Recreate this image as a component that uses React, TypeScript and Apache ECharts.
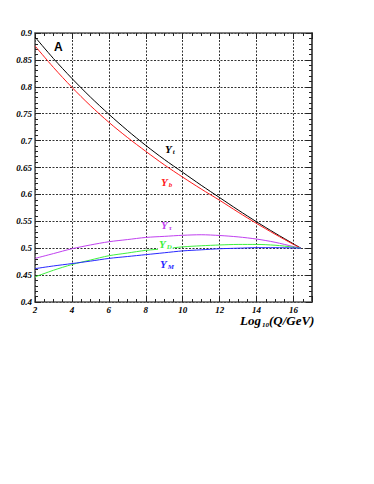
import React, { useEffect, useRef } from "react";
import * as echarts from "echarts";

const xs = [2, 3, 4, 5, 6, 7, 8, 9, 10, 11, 12, 13, 14, 15, 16, 16.4];
const yT = [0.8925, 0.8525, 0.8155, 0.781, 0.749, 0.719, 0.691, 0.665, 0.641, 0.617, 0.594, 0.571, 0.549, 0.528, 0.508, 0.5];
const yB = [0.876, 0.836, 0.799, 0.765, 0.734, 0.706, 0.68, 0.655, 0.632, 0.61, 0.589, 0.567, 0.546, 0.526, 0.507, 0.5];
const yTau = [0.481, 0.49, 0.499, 0.506, 0.512, 0.516, 0.52, 0.522, 0.524, 0.525, 0.5236, 0.521, 0.517, 0.511, 0.503, 0.5];
const yD = [0.4466, 0.459, 0.4696, 0.478, 0.486, 0.491, 0.496, 0.499, 0.5025, 0.5045, 0.506, 0.507, 0.507, 0.5055, 0.502, 0.5];
const yM = [0.462, 0.467, 0.4714, 0.476, 0.481, 0.4845, 0.488, 0.4915, 0.495, 0.497, 0.499, 0.5, 0.501, 0.501, 0.5005, 0.5];

const serif = "Liberation Serif";

function mk(name: string, ys: number[], color: string) {
  return {
    name,
    type: "line",
    data: xs.map((x, i) => [x, ys[i]]),
    smooth: 0.3,
    showSymbol: false,
    lineStyle: { color, width: 1 },
    z: 3,
  };
}

function label(x: number, y: number, sub: string, color: string, bg?: string) {
  return {
    type: "text",
    x,
    y,
    z: 10,
    style: {
      text: "{a|Y}{b|" + sub + "}",
      fill: color,
      backgroundColor: bg,
      padding: bg ? [0, 1] : 0,
      rich: {
        a: { fontFamily: serif, fontStyle: "italic", fontWeight: "bold", fontSize: 11, fill: color },
        b: { fontFamily: serif, fontStyle: "italic", fontWeight: "bold", fontSize: 7, fill: color, verticalAlign: "bottom", padding: [5, 0, 0, 1] },
      },
    },
  };
}

export default function App() {
  const ref = useRef<HTMLDivElement>(null);
  useEffect(() => {
    const chart = echarts.init(ref.current!, null, { renderer: "svg" });
    const axisLabel = { fontFamily: serif, fontStyle: "italic", fontWeight: "bold", fontSize: 9, color: "#000" };
    const splitLine = { show: true, lineStyle: { color: "#333", type: [2, 1.5], width: 1 } };
    const axisLine = { show: true, lineStyle: { color: "#555", width: 1.5 } };
    chart.setOption({
      animation: false,
      grid: { left: 35, top: 33, right: 62, bottom: 182 },
      xAxis: [
        {
          type: "value", min: 2, max: 17, interval: 2, position: "bottom",
          axisLine, axisTick: { inside: true, length: 6, lineStyle: { color: "#222" } },
          minorTick: { show: true, splitNumber: 4, length: 3, lineStyle: { color: "#222" } },
          axisLabel: { ...axisLabel, margin: 3, formatter: (v: number) => (v > 16 ? "" : String(v)) },
          splitLine,
        },
        {
          type: "value", min: 2, max: 17, interval: 2, position: "top",
          axisLine, axisTick: { inside: true, length: 6, lineStyle: { color: "#222" } },
          minorTick: { show: true, splitNumber: 4, length: 3, lineStyle: { color: "#222" } },
          axisLabel: { show: false }, splitLine: { show: false },
        },
      ],
      yAxis: [
        {
          type: "value", min: 0.4, max: 0.9, interval: 0.05, position: "left",
          axisLine, axisTick: { inside: true, length: 6, lineStyle: { color: "#222" } },
          minorTick: { show: true, splitNumber: 5, length: 3, lineStyle: { color: "#222" } },
          axisLabel: { ...axisLabel, margin: 3, formatter: (v: number) => String(Math.round(v * 100) / 100) },
          splitLine,
        },
        {
          type: "value", min: 0.4, max: 0.9, interval: 0.05, position: "right",
          axisLine: { show: true, lineStyle: { color: "#555", width: 2 } },
          axisTick: { inside: true, length: 6, lineStyle: { color: "#222" } },
          minorTick: { show: true, splitNumber: 5, length: 3, lineStyle: { color: "#222" } },
          axisLabel: { show: false }, splitLine: { show: false },
        },
      ],
      series: [
        mk("Yt", yT, "#000000"),
        mk("Yb", yB, "#ff1a1a"),
        mk("Ytau", yTau, "#c040f0"),
        mk("YD", yD, "#3ef03e"),
        mk("YM", yM, "#2828ff"),
      ],
      graphic: [
        { type: "text", x: 54, y: 41, z: 10, style: { text: "A", fontFamily: "Liberation Sans", fontWeight: "bold", fontSize: 12, fill: "#000" } },
        label(165, 143, "t", "#000"),
        label(161, 176, "b", "#ff1a1a"),
        label(161, 219, "τ", "#c040f0"),
        label(158, 238, "D", "#3ef03e", "#fff"),
        label(160, 258, "M", "#2828ff"),
        {
          type: "text", x: 240, y: 313, z: 10,
          style: {
            text: "{a|Log}{b|10}{a|(Q/GeV)}",
            rich: {
              a: { fontFamily: serif, fontStyle: "italic", fontWeight: "bold", fontSize: 13, fill: "#000" },
              b: { fontFamily: serif, fontStyle: "italic", fontWeight: "bold", fontSize: 7, fill: "#000", verticalAlign: "bottom", padding: [8, 0, 0, 1] },
            },
          },
        },
      ],
    });
    return () => chart.dispose();
  }, []);
  return <div ref={ref} style={{ position: "fixed", left: 0, top: 0, width: 374, height: 484, background: "#fff" }} />;
}
